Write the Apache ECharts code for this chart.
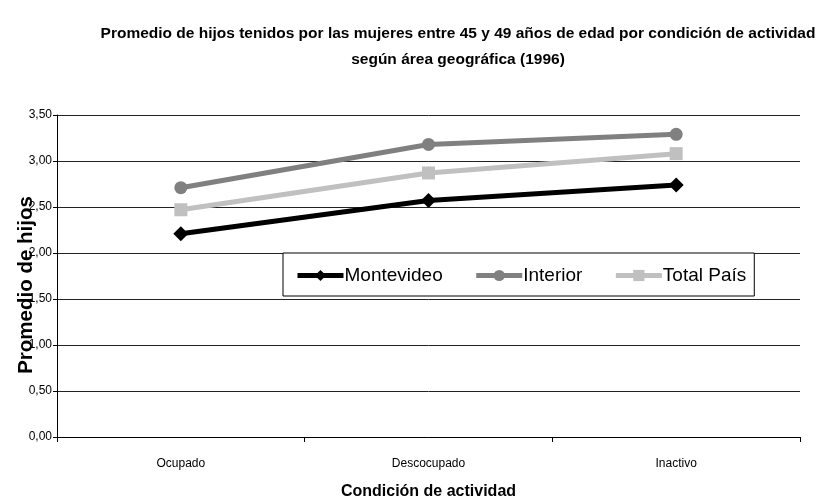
<!DOCTYPE html>
<html>
<head>
<meta charset="utf-8">
<script src="https://cdn.jsdelivr.net/npm/echarts@6/dist/echarts.min.js"></script>
<style>
  html, body { margin: 0; padding: 0; background: #fff; }
  #chart { width: 826px; height: 500px; }
</style>
</head>
<body>
<div id="chart"></div>
<script>
// Categories (activity condition)
const categories = ['Ocupado', 'Descocupado', 'Inactivo'];

// Average number of children per area
const montevideo = [2.21, 2.57, 2.74];
const interior = [2.71, 3.18, 3.29];
const totalPais = [2.47, 2.87, 3.08];

// Y axis ticks
const yTicks = [0, 0.5, 1, 1.5, 2, 2.5, 3, 3.5];

const narrow = "'Liberation Sans Narrow', 'Arial Narrow', 'Liberation Sans', Arial, sans-serif";

const chart = echarts.init(document.getElementById('chart'));

function lineSeries(name, data, color, symbol, size) {
  return {
    name: name,
    type: 'line',
    data: data,
    symbol: symbol,
    symbolSize: size,
    lineStyle: { color: color, width: 5 },
    itemStyle: { color: color },
    animation: false
  };
}

chart.setOption({
  backgroundColor: '#ffffff',
  title: {
    text: 'Promedio de hijos tenidos por las mujeres entre 45 y 49 años de edad por condición de actividad\nsegún área geográfica (1996)',
    left: 453,
    top: 16,
    textAlign: 'center',
    textStyle: {
      fontFamily: narrow,
      fontSize: 15.5,
      fontWeight: 'bold',
      color: '#000',
      lineHeight: 26
    }
  },
  grid: { left: 57, right: 26, top: 115, bottom: 63, outerBoundsMode: 'none', containLabel: false },
  legend: {
    left: 283,
    top: 253,
    width: 472,
    height: 46,
    padding: [13, 8, 11, 12],
    itemWidth: 46,
    itemHeight: 14,
    itemGap: 31,
    backgroundColor: '#fff',
    borderColor: '#000',
    borderWidth: 1,
    lineStyle: { width: 5 },
    textStyle: { fontFamily: narrow, fontSize: 19, color: '#000', padding: [0, 0, 0, -4] },
    data: ['Montevideo', 'Interior', 'Total País']
  },
  xAxis: {
    type: 'category',
    data: categories,
    name: 'Condición de actividad',
    nameLocation: 'middle',
    nameGap: 47,
    nameMoveOverlap: false,
    nameTextStyle: { fontFamily: narrow, fontSize: 16, fontWeight: 'bold', color: '#000' },
    axisLine: { lineStyle: { color: '#000', width: 1 } },
    axisTick: { show: true, length: 5, lineStyle: { color: '#000' } },
    axisLabel: { fontFamily: narrow, fontSize: 12, color: '#000', margin: 21 }
  },
  yAxis: {
    type: 'value',
    min: yTicks[0],
    max: yTicks[yTicks.length - 1],
    interval: 0.5,
    name: 'Promedio de hijos',
    nameLocation: 'middle',
    nameGap: 20,
    nameMoveOverlap: false,
    nameTextStyle: {
      fontFamily: 'Liberation Sans, Arial, sans-serif', fontSize: 20.5, fontWeight: 'bold', color: '#000',
      padding: [0, 18, 0, 0]
    },
    axisLine: { show: true, lineStyle: { color: '#000', width: 1 } },
    axisTick: { show: true, length: 4, lineStyle: { color: '#000' } },
    axisLabel: {
      fontFamily: narrow, fontSize: 12, color: '#000', margin: 5,
      formatter: v => v.toFixed(2).replace('.', ',')
    },
    splitLine: { lineStyle: { color: '#222', width: 1 } }
  },
  series: [
    lineSeries('Montevideo', montevideo, '#000000', 'diamond', 15),
    lineSeries('Interior', interior, '#808080', 'circle', 13),
    lineSeries('Total País', totalPais, '#c0c0c0', 'rect', 13)
  ]
});
</script>
</body>
</html>
